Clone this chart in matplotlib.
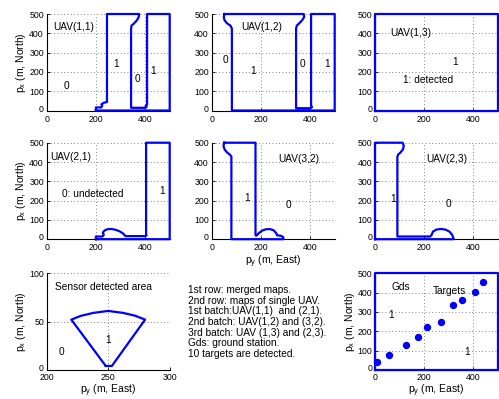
import matplotlib
matplotlib.use("Agg")
import matplotlib.pyplot as plt
import matplotlib.transforms as mtransforms

plt.rcParams['font.family'] = ['Liberation Sans', 'DejaVu Sans']
plt.rcParams['mathtext.fontset'] = 'custom'
plt.rcParams['mathtext.rm'] = 'Liberation Sans'
plt.rcParams['mathtext.it'] = 'Liberation Sans:italic'

BLUE = (0, 0, 1)

# contour outlines of the detected (1) regions, (East, North) in metres
uav11_x = [200, 200, 222, 226, 222, 232, 245, 245, 376, 374, 366, 354, 345, 343, 343, 400, 406, 402, 408, 408, 500, 500, 200]
uav11_y = [0, 16, 16, 26, 32, 40, 44, 500, 500, 484, 466, 450, 440, 425, 14, 14, 18, 24, 30, 500, 500, 0, 0]

uav12_x = [52, 49, 52, 62, 76, 82, 82, 500, 500, 404, 404, 408, 402, 343, 343, 346, 356, 368, 376, 374, 52]
uav12_y = [500, 485, 468, 452, 440, 425, 0, 0, 500, 500, 24, 18, 12, 12, 425, 440, 452, 468, 485, 500, 500]

uav13_x = [0, 500, 500, 0, 0]
uav13_y = [0, 0, 500, 500, 0]

uav21_x = [200, 200, 226, 232, 228, 236, 248, 262, 280, 298, 312, 320, 400, 406, 404, 404, 500, 500, 200]
uav21_y = [0, 14, 14, 22, 34, 46, 52, 53, 49, 40, 28, 16, 16, 20, 26, 500, 500, 0, 0]

uav32_x = [51, 48, 52, 62, 74, 80, 80, 292, 290, 280, 266, 262, 252, 238, 222, 206, 194, 186, 180, 178, 178, 51]
uav32_y = [500, 484, 466, 450, 438, 428, 0, 0, 12, 18, 20, 32, 46, 52, 52, 45, 34, 24, 18, 24, 500, 500]

uav23_x = [0, 0, 112, 117, 114, 104, 94, 91, 91, 224, 230, 236, 250, 268, 286, 302, 314, 320, 0]
uav23_y = [0, 500, 500, 484, 466, 450, 438, 428, 14, 14, 22, 40, 50, 53, 50, 40, 22, 0, 0]

sensor_x = [248, 220, 228, 238, 250, 262, 272, 280, 253, 248]
sensor_y = [4, 52, 56, 59, 61, 59, 56, 52, 4, 4]

target_x = [10, 57, 127, 176, 213, 269, 316, 352, 407, 440]
target_y = [40, 78, 128, 168, 224, 248, 338, 364, 403, 455]

map_ticks_x = [0, 200, 400]
map_ticks_y = [0, 100, 200, 300, 400, 500]

notes = ["1st row: merged maps.",
         "2nd row: maps of single UAV.",
         "1st batch:UAV(1,1)  and (2,1).",
         "2nd batch: UAV(1,2) and (3,2).",
         "3rd batch: UAV (1,3) and (2,3).",
         "Gds: ground station.",
         "10 targets are detected."]

W, H = 499, 399
fig = plt.figure(figsize=(W / 100, H / 100), dpi=100)

col_left = [46.7, 211.7, 375]
row_top = [14, 142.7, 273.3]
ax_w, ax_h = 123, 96.5

YLAB = r'$\mathregular{p_x}$ (m, North)'
XLAB = r'$\mathregular{p_y}$ (m, East)'


def make_axes(r, c):
    ax = fig.add_axes([col_left[c] / W, 1 - (row_top[r] + ax_h) / H, ax_w / W, ax_h / H])
    for s in ['top', 'right']:
        ax.spines[s].set_visible(False)
    for s in ['left', 'bottom']:
        ax.spines[s].set_linewidth(0.8)
    ax.grid(True, linestyle=(0, (1, 3)), color='0.35', linewidth=0.6)
    ax.tick_params(direction='in', length=2, labelsize=6.3, pad=2, width=0.6)
    ax.tick_params(axis='x', pad=3 if r < 2 else 2.4)
    return ax


def lift_zero(ax):
    # MATLAB puts the "0" y label a touch above the axis line
    lab = ax.yaxis.get_major_ticks()[0].label1
    shift = mtransforms.ScaledTranslation(0, 2.5 / 100, fig.dpi_scale_trans)
    lab.set_transform(lab.get_transform() + shift)


def map_axes(r, c):
    ax = make_axes(r, c)
    ax.set_xlim(0, 500)
    ax.set_ylim(0, 500)
    ax.set_xticks(map_ticks_x)
    ax.set_yticks(map_ticks_y)
    lift_zero(ax)
    return ax


def outline(ax, x, y):
    ax.plot(x, y, color=BLUE, lw=1.6, clip_on=False, zorder=5)


def label(ax, txt, x, y, ha='center'):
    ax.text(x, y, txt, fontsize=7.3, ha=ha, va='center')


def ylab(ax):
    ax.set_ylabel(YLAB, fontsize=7.5, labelpad=0.5)


def xlab(ax, pad=1):
    ax.set_xlabel(XLAB, fontsize=7.5, labelpad=pad)


# row 1: merged maps
ax = map_axes(0, 0)
outline(ax, uav11_x, uav11_y)
label(ax, "UAV(1,1)", 27, 435, 'left')
label(ax, "0", 79, 125)
label(ax, "1", 283, 240)
label(ax, "0", 370, 163)
label(ax, "1", 432, 205)
ylab(ax)

ax = map_axes(0, 1)
outline(ax, uav12_x, uav12_y)
label(ax, "UAV(1,2)", 120, 434, 'left')
label(ax, "0", 54, 260)
label(ax, "1", 170, 205)
label(ax, "0", 370, 243)
label(ax, "1", 469, 240)

ax = map_axes(0, 2)
outline(ax, uav13_x, uav13_y)
label(ax, "UAV(1,3)", 64, 400, 'left')
label(ax, "1", 327, 252)
label(ax, "1: detected", 217, 156)

# row 2: single UAV maps
ax = map_axes(1, 0)
outline(ax, uav21_x, uav21_y)
label(ax, "UAV(2,1)", 13, 428, 'left')
label(ax, "0: undetected", 61, 236, 'left')
label(ax, "1", 470, 248)
ylab(ax)

ax = map_axes(1, 1)
outline(ax, uav32_x, uav32_y)
label(ax, "UAV(3,2)", 270, 414, 'left')
label(ax, "1", 142, 214)
label(ax, "0", 311, 178)
xlab(ax)

ax = map_axes(1, 2)
outline(ax, uav23_x, uav23_y)
label(ax, "UAV(2,3)", 207, 414, 'left')
label(ax, "1", 75, 209)
label(ax, "0", 298, 181)

# row 3: sensor footprint, notes, targets
ax = make_axes(2, 0)
ax.set_xlim(200, 300)
ax.set_ylim(0, 100)
ax.set_xticks([200, 250, 300])
ax.set_yticks([0, 50, 100])
lift_zero(ax)
outline(ax, sensor_x, sensor_y)
label(ax, "Sensor detected area", 207, 85.5, 'left')
label(ax, "1", 250, 31)
label(ax, "0", 211.6, 18)
ylab(ax)
xlab(ax, 0)

fig.text(187.7 / W, 1 - 285 / H, "\n".join(notes), fontsize=7.3,
         ha='left', va='top', linespacing=1.08)

ax = map_axes(2, 2)
outline(ax, uav13_x, uav13_y)
ax.plot(target_x, target_y, 'o', color=BLUE, markersize=4.3, zorder=6, clip_on=False)
label(ax, "Gds", 67, 431, 'left')
label(ax, "Targets", 233, 410, 'left')
label(ax, "1", 64, 284)
label(ax, "1", 373, 90)
ylab(ax)
xlab(ax, 0)

fig.savefig("out.png", dpi=100)
